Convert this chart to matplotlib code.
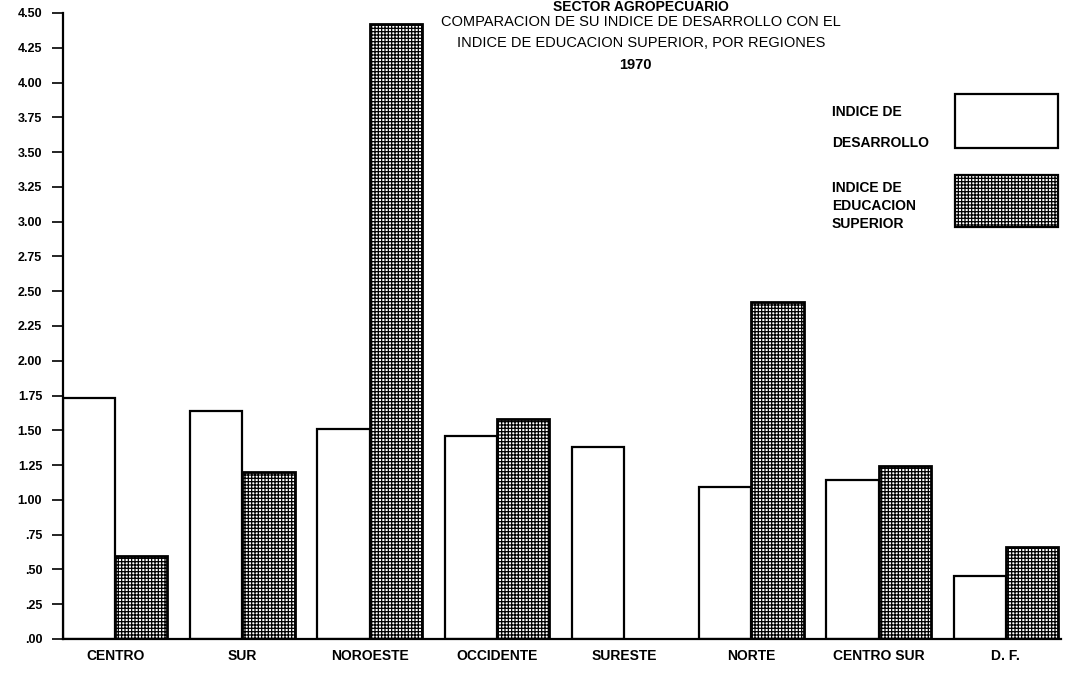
import numpy as np
import matplotlib
matplotlib.use('Agg')
import matplotlib.pyplot as plt
from matplotlib.patches import Rectangle

regiones = ['CENTRO', 'SUR', 'NOROESTE', 'OCCIDENTE', 'SURESTE', 'NORTE', 'CENTRO SUR', 'D. F.']
indice_desarrollo = [1.73, 1.64, 1.51, 1.46, 1.38, 1.09, 1.14, 0.45]
indice_educacion = [0.60, 1.20, 4.42, 1.58, np.nan, 2.42, 1.24, 0.66]
y_ticks = [0.0, 0.25, 0.5, 0.75, 1.0, 1.25, 1.5, 1.75, 2.0, 2.25, 2.5, 2.75,
           3.0, 3.25, 3.5, 3.75, 4.0, 4.25, 4.5]
y_labels = ['.00', '.25', '.50', '.75', '1.00', '1.25', '1.50', '1.75', '2.00', '2.25',
            '2.50', '2.75', '3.00', '3.25', '3.50', '3.75', '4.00', '4.25', '4.50']

plt.rcParams['font.family'] = ['Liberation Sans', 'DejaVu Sans']
plt.rcParams['hatch.linewidth'] = 0.9

fig = plt.figure(figsize=(10.68, 6.8), dpi=100)
ax = fig.add_axes([0.059, 0.0603, 0.934, 0.9206])

x = np.arange(len(regiones))
w = 0.41
ax.bar(x - w / 2, indice_desarrollo, width=w, color='white', edgecolor='black', linewidth=1.6)
ax.bar(x + w / 2, indice_educacion, width=w, color='white', edgecolor='black',
       hatch='+++++', linewidth=2.0)

ax.set_xlim(-w, len(regiones) - 1 + w + 0.02)
ax.set_ylim(0, 4.5)
ax.set_yticks(y_ticks)
ax.set_yticklabels(y_labels, fontsize=9, fontweight='bold')
ax.set_xticks(x)
ax.set_xticklabels(regiones, fontsize=10, fontweight='bold')
ax.tick_params(axis='x', length=0, pad=7)
ax.tick_params(axis='y', length=8, width=1.2, pad=7)

for s in ['top', 'right']:
    ax.spines[s].set_visible(False)
ax.spines['left'].set_linewidth(1.6)
ax.spines['bottom'].set_linewidth(1.6)

# titulo
fig.text(0.60, 0.990, 'SECTOR AGROPECUARIO', ha='center', va='center', fontsize=10, fontweight='bold')
fig.text(0.60, 0.968, 'COMPARACION DE SU INDICE DE DESARROLLO CON EL', ha='center', va='center', fontsize=10.5)
fig.text(0.60, 0.937, 'INDICE DE EDUCACION SUPERIOR, POR REGIONES', ha='center', va='center', fontsize=10.5)
fig.text(0.595, 0.905, '1970', ha='center', va='center', fontsize=10.5, fontweight='bold')

# leyenda (texto a la izquierda del cuadro)
fig.add_artist(Rectangle((0.894, 0.7824), 0.0964, 0.0794, transform=fig.transFigure,
                         facecolor='white', edgecolor='black', linewidth=1.6))
fig.add_artist(Rectangle((0.894, 0.6662), 0.0964, 0.0765, transform=fig.transFigure,
                         facecolor='white', edgecolor='black', hatch='+++++', linewidth=1.6))
ley = dict(ha='left', va='center', fontsize=10, fontweight='bold')
fig.text(0.779, 0.835, 'INDICE DE', **ley)
fig.text(0.779, 0.790, 'DESARROLLO', **ley)
fig.text(0.779, 0.7235, 'INDICE DE', **ley)
fig.text(0.779, 0.697, 'EDUCACION', **ley)
fig.text(0.779, 0.670, 'SUPERIOR', **ley)

fig.savefig('out.png', dpi=100)
